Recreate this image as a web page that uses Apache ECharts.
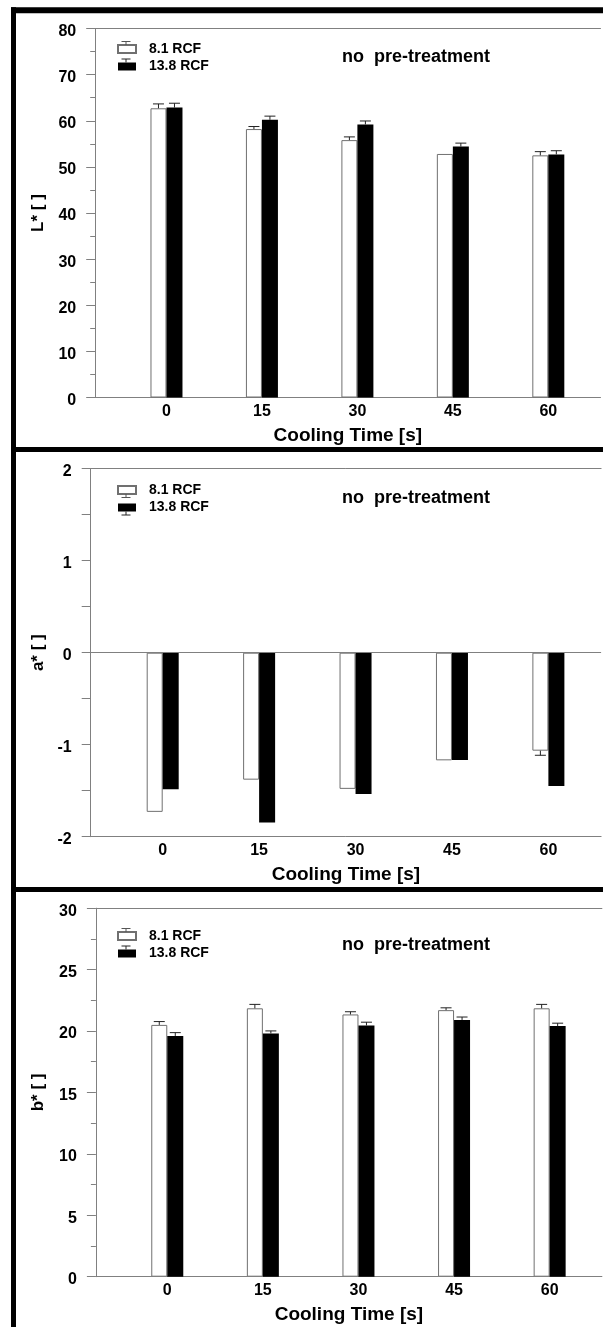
<!DOCTYPE html>
<html>
<head>
<meta charset="utf-8">
<script src="https://cdn.jsdelivr.net/npm/echarts@6.0.0/dist/echarts.min.js"></script>
<style>
html,body{margin:0;padding:0;background:#fff;}
#c{width:603px;height:1327px;}
</style>
</head>
<body>
<div id="c"></div>
<script>
// ---- data ----
const categories = [0, 15, 30, 45, 60];          // Cooling Time [s]
const seriesNames = ['8.1 RCF', '13.8 RCF'];
const panelTitle = 'no  pre-treatment';
const xAxisTitle = 'Cooling Time [s]';
const yAxisNames = ['L* [ ]', 'a* [ ]', 'b* [ ]'];

const lWhite    = [62.7, 58.2, 55.8, 52.8, 52.5];
const lWhiteErr = [0.95, 0.55, 0.7, 0, 0.8];
const lBlack    = [62.85, 60.2, 59.2, 54.4, 52.7];
const lBlackErr = [0.95, 0.8, 0.75, 0.75, 0.8];

const aWhite    = [-1.73, -1.38, -1.48, -1.17, -1.065];
const aWhiteErr = [0, 0, 0, 0, 0.05];
const aBlack    = [-1.485, -1.845, -1.535, -1.165, -1.45];
const aBlackErr = [0, 0, 0, 0, 0];

const bWhite    = [20.5, 21.85, 21.35, 21.7, 21.85];
const bWhiteErr = [0.27, 0.32, 0.22, 0.19, 0.32];
const bBlack    = [19.6, 19.8, 20.45, 20.9, 20.4];
const bBlackErr = [0.27, 0.21, 0.27, 0.24, 0.24];

const yRanges = [
  {min: 0, max: 80, interval: 10},
  {min: -2, max: 2, interval: 1},
  {min: 0, max: 30, interval: 5}
];

// ---- layout / style ----
const FONT = "'Liberation Sans', Arial, sans-serif";
const AX = '#808080';
const BAR_W = 16;
const xMin = -11.2, xMax = 68.2;
const grids = [
  {left: 95.2, top: 28.5, width: 505.3, height: 369},
  {left: 90.7, top: 468.7, width: 510.4, height: 368},
  {left: 95.9, top: 908.2, width: 506, height: 368.5}
];
const minorLen = [5, 9, 5];
const yNameGap = [48, 44, 49];
const legendTops = [42, 483, 929];
const legendCapDir = [-1, 1, -1];   // error cap drawn above (-1) or below (+1) the legend swatch
const textY = [57, 498, 945];
const LEG_LEFT = 117, LEG_W = 18, LEG_H = 8, LEG_ROW = 17.5, LEG_LINE = 14;

const panels = [
  [lWhite, lWhiteErr, lBlack, lBlackErr],
  [aWhite, aWhiteErr, aBlack, aBlackErr],
  [bWhite, bWhiteErr, bBlack, bBlackErr]
];

function pairs(vals) { return categories.map((c, i) => [c, vals[i]]); }
function triples(vals, errs) { return categories.map((c, i) => [c, vals[i], errs[i]]); }

function errRender(offset) {
  return function (params, api) {
    const x = api.value(0), y = api.value(1), e = api.value(2);
    if (!e) return null;
    const s = y >= 0 ? 1 : -1;
    const p0 = api.coord([x, y]);
    const p1 = api.coord([x, y + s * e]);
    const cx = p0[0] + offset;
    const st = {stroke: '#222', lineWidth: 1};
    return {
      type: 'group',
      children: [
        {type: 'line', shape: {x1: cx, y1: p0[1], x2: cx, y2: p1[1]}, style: st},
        {type: 'line', shape: {x1: cx - 5.5, y1: p1[1], x2: cx + 5.5, y2: p1[1]}, style: st}
      ]
    };
  };
}

// small error-bar caps on the legend swatches (decoration)
function legendCaps() {
  const out = [];
  legendTops.forEach((t, p) => {
    for (let r = 0; r < 2; r++) {
      const cy = t + LEG_LINE / 2 + r * LEG_ROW;
      const cx = LEG_LEFT + LEG_W / 2;
      const edge = cy + legendCapDir[p] * LEG_H / 2;
      const end = edge + legendCapDir[p] * 3.5;
      const st = {stroke: r === 0 ? '#555' : '#222', lineWidth: 1};
      out.push({type: 'line', z: 100, shape: {x1: cx, y1: edge, x2: cx, y2: end}, style: st});
      out.push({type: 'line', z: 100, shape: {x1: cx - 4.5, y1: end, x2: cx + 4.5, y2: end}, style: st});
    }
  });
  return out;
}

const option = {
  animation: false,
  backgroundColor: '#fff',
  textStyle: {fontFamily: FONT},
  grid: grids.map(g => Object.assign({containLabel: false}, g)),
  legend: legendTops.map((t, i) => ({
    data: seriesNames.map(n => ({name: n, icon: 'rect'})),
    orient: 'vertical',
    left: LEG_LEFT,
    top: t,
    itemWidth: LEG_W,
    itemHeight: LEG_H,
    itemGap: LEG_ROW - LEG_LINE,
    padding: 0,
    selectedMode: false,
    textStyle: {fontFamily: FONT, fontWeight: 'bold', fontSize: 14, color: '#000', lineHeight: LEG_LINE, padding: [0, 0, 0, 8]}
  })),
  xAxis: [].concat(...grids.map((g, i) => [
    {
      gridIndex: i, type: 'value', min: xMin, max: xMax, position: 'bottom',
      axisLine: {show: true, onZero: false, lineStyle: {color: AX, width: 1}},
      axisTick: {show: false},
      splitLine: {show: false},
      axisLabel: {customValues: categories, margin: 6, fontFamily: FONT, fontWeight: 'bold', fontSize: 16, color: '#000'},
      name: xAxisTitle, nameLocation: 'middle', nameGap: 29,
      nameTextStyle: {fontFamily: FONT, fontWeight: 'bold', fontSize: 19, color: '#000'}
    },
    {
      gridIndex: i, type: 'value', min: xMin, max: xMax, position: 'top',
      axisLine: {show: true, onZero: false, lineStyle: {color: AX, width: 1}},
      axisTick: {show: false}, axisLabel: {show: false}, splitLine: {show: false}
    }
  ])),
  yAxis: grids.map((g, i) => ({
    gridIndex: i, type: 'value', position: 'left',
    min: yRanges[i].min, max: yRanges[i].max, interval: yRanges[i].interval,
    axisLine: {show: true, onZero: false, lineStyle: {color: AX, width: 1}},
    axisTick: {show: true, length: 9, lineStyle: {color: AX}},
    minorTick: {show: true, splitNumber: 2, length: minorLen[i], lineStyle: {color: AX}},
    splitLine: {show: false},
    axisLabel: {margin: 19, fontFamily: FONT, fontWeight: 'bold', fontSize: 16, color: '#000', verticalAlign: 'top', lineHeight: 6},
    name: yAxisNames[i], nameLocation: 'middle', nameGap: yNameGap[i],
    nameTextStyle: {fontFamily: FONT, fontWeight: 'bold', fontSize: 17, color: '#000'}
  })),
  series: [].concat(...panels.map((p, i) => [
    {
      name: seriesNames[0], type: 'bar', xAxisIndex: i * 2, yAxisIndex: i,
      data: pairs(p[0]), barWidth: BAR_W, barGap: '0%',
      itemStyle: {color: '#fff', borderColor: '#707070', borderWidth: 1},
      markLine: i === 1 ? {
        silent: true, symbol: 'none', label: {show: false},
        lineStyle: {color: AX, type: 'solid', width: 1},
        data: [{yAxis: 0}]
      } : undefined
    },
    {
      name: seriesNames[1], type: 'bar', xAxisIndex: i * 2, yAxisIndex: i,
      data: pairs(p[2]), barWidth: BAR_W, barGap: '0%',
      itemStyle: {color: '#000', borderColor: '#000', borderWidth: 0}
    },
    {
      type: 'custom', xAxisIndex: i * 2, yAxisIndex: i, z: 5,
      renderItem: errRender(-BAR_W / 2), data: triples(p[0], p[1]),
      encode: {x: 0, y: 1}
    },
    {
      type: 'custom', xAxisIndex: i * 2, yAxisIndex: i, z: 5,
      renderItem: errRender(BAR_W / 2), data: triples(p[2], p[3]),
      encode: {x: 0, y: 1}
    }
  ])),
  graphic: [
    {type: 'line', shape: {x1: 11, y1: 10.3, x2: 603, y2: 10.3}, style: {stroke: '#000', lineWidth: 6}, z: 100},
    {type: 'line', shape: {x1: 11, y1: 449.5, x2: 603, y2: 449.5}, style: {stroke: '#000', lineWidth: 5}, z: 100},
    {type: 'line', shape: {x1: 11, y1: 889.5, x2: 603, y2: 889.5}, style: {stroke: '#000', lineWidth: 5}, z: 100},
    {type: 'line', shape: {x1: 13.5, y1: 7.3, x2: 13.5, y2: 1327}, style: {stroke: '#000', lineWidth: 5}, z: 100}
  ].concat(textY.map(y => ({
    type: 'text', x: 416, y: y, z: 100,
    style: {text: panelTitle, fontFamily: FONT, fontSize: 18, fontWeight: 'bold', fill: '#000', textAlign: 'center', textVerticalAlign: 'middle'}
  }))).concat(legendCaps())
};

const chart = echarts.init(document.getElementById('c'), null, {renderer: 'canvas'});
chart.setOption(option);
</script>
</body>
</html>
